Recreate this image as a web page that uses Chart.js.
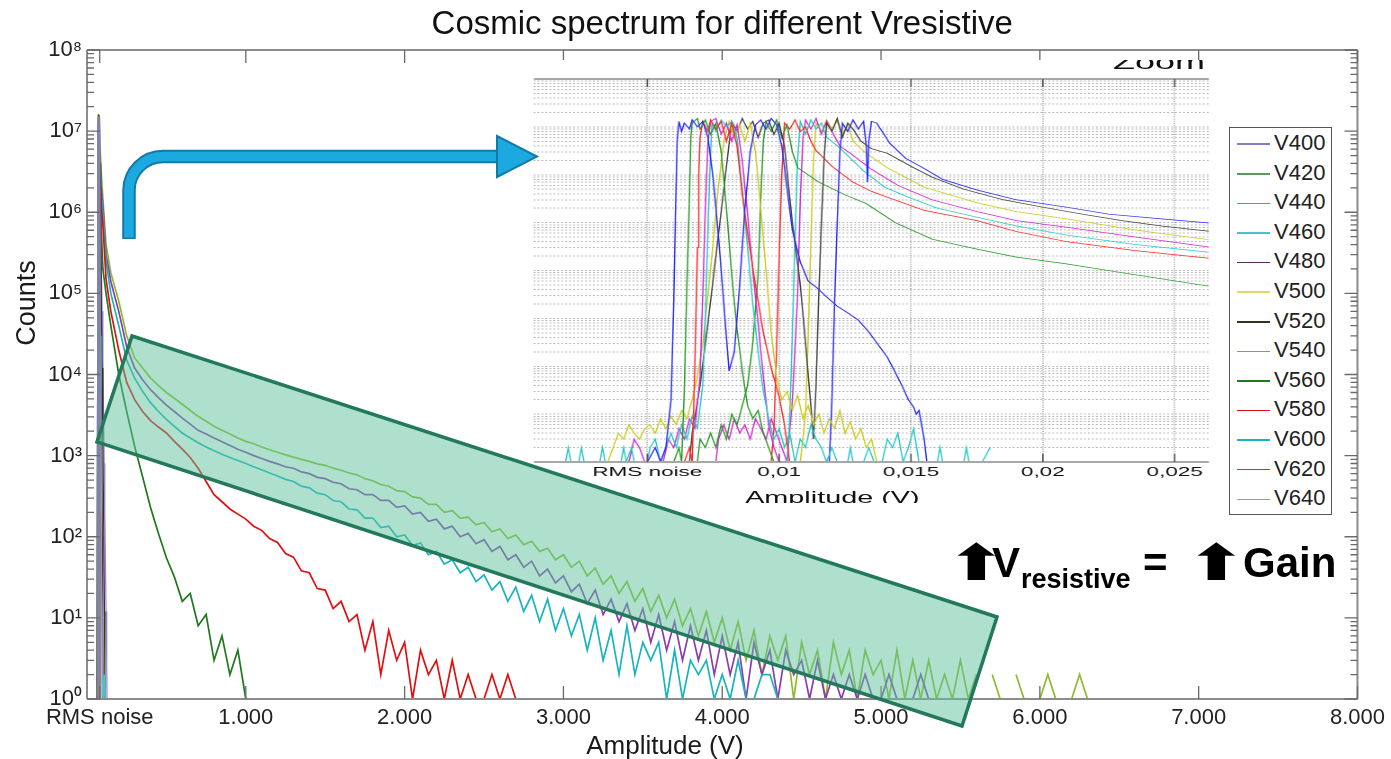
<!DOCTYPE html>
<html>
<head>
<meta charset="utf-8">
<script src="https://cdn.jsdelivr.net/npm/chart.js@4.4.1/dist/chart.umd.min.js"></script>
<style>
  html, body { margin: 0; padding: 0; background: #fff; }
  body { width: 1391px; height: 759px; position: relative; overflow: hidden; font-family: 'Liberation Sans', Arial, sans-serif; color: #1a1a1a; }
  #main { position: absolute; left: 0; top: 0; }
  #zoomBox { position: absolute; left: 530px; top: 60px; width: 685px; height: 443px; overflow: hidden; background: #fff; z-index: 1; }
  #zoomInner { position: absolute; left: 0; top: 0; width: 381px; height: 450px; transform: scaleX(1.8); transform-origin: 0 0; }
  #zoom { position: absolute; left: 0; top: 0; }
  .zoomTitle { position: absolute; right: 6px; top: -8px; font-size: 20px; line-height: 20px; color: #111; }
  .zoomXTitle { position: absolute; left: 108px; top: 428px; width: 120px; text-align: center; font-size: 16px; line-height: 20px; color: #111; }
  .xTitle { position: absolute; left: 565px; top: 731px; width: 200px; text-align: center; font-size: 26px; line-height: 28px; color: #1a1a1a; }
  .yTitle { position: absolute; left: -34px; top: 288px; width: 120px; text-align: center; font-size: 27px; line-height: 30px; transform: rotate(-90deg); color: #1a1a1a; }
  #legend { position: absolute; left: 1229px; top: 127px; width: 101px; height: 386px; border: 1.5px solid #555; background: #fff; z-index: 1; }
  #legend .row { height: 29.6px; line-height: 29.6px; font-size: 22px; color: #222; white-space: nowrap; }
  #legend .sw { display: inline-block; width: 33px; height: 1.5px; vertical-align: middle; margin: 0 4px 0 7px; }
  #notes { position: absolute; left: 0; top: 0; z-index: 2; pointer-events: none; }
  #gain { position: absolute; left: 0; top: 0; z-index: 3; color: #000; font-weight: bold; }
  #gain span { position: absolute; white-space: nowrap; font-size: 42px; line-height: 42px; top: 542px; }
  #gain span.sub { font-size: 27px; line-height: 27px; top: 566px; }
  #gain span.arw { font-family: 'DejaVu Sans', sans-serif; font-size: 50px; line-height: 50px; top: 538px; transform: scaleX(1.4); transform-origin: 0 0; }
</style>
</head>
<body>
<canvas id="main" width="1391" height="759"></canvas>
<div class="xTitle">Amplitude (V)</div>
<div class="yTitle">Counts</div>
<div id="zoomBox">
  <div id="zoomInner">
    <canvas id="zoom" width="381" height="450"></canvas>
    <div class="zoomTitle">Zoom</div>
    <div class="zoomXTitle">Amplitude (V)</div>
  </div>
</div>
<div id="legend"></div>
<svg id="notes" width="1391" height="759">
  <polygon points="132,336 997,617 962,726 97,442" fill="rgba(94,193,156,0.5)" stroke="#23795c" stroke-width="3.5"/>
  <path d="M129,239 V190 A34,34 0 0 1 163,156.5 H500" fill="none" stroke="#117aa8" stroke-width="13.5"/>
  <path d="M129,237.5 V190 A34,34 0 0 1 163,156.5 H501" fill="none" stroke="#1ca9df" stroke-width="9.5"/>
  <polygon points="497,136 537,156.5 497,177" fill="#1ca9df" stroke="#117aa8" stroke-width="2"/>
</svg>
<div id="gain">
  <span class="arw" style="left:947px">⬆</span>
  <span style="left:992px">V</span>
  <span class="sub" style="left:1021px">resistive</span>
  <span style="left:1143px">=</span>
  <span class="arw" style="left:1187px">⬆</span>
  <span style="left:1243px">Gain</span>
</div>

<script>
// ---------- shared ----------
const seriesNames = ['V400', 'V420', 'V440', 'V460', 'V480', 'V500', 'V520', 'V540', 'V560', 'V580', 'V600', 'V620', 'V640'];
const mainColors = ['#8080c0', '#5a9a5a', '#e06060', '#50c0c8', '#5a2a60', '#e0d860', '#333322', '#9080d8',
                    '#1f7a1f', '#e01010', '#18b4bc', '#8a3cb0', '#8cbc2c'];
const zoomColors = ['#2b2bff', '#2a9a2a', '#ff2b2b', '#2ac8c8', '#d42ad4', '#cccc20', '#444444',
                    '#2b2bff', '#2a9a2a', '#ff2b2b', '#2ac8c8', '#d42ad4', '#cccc20'];

const countRange = [1, 1e8];
const countDecades = [1, 10, 100, 1000, 1e4, 1e5, 1e6, 1e7, 1e8];
const decadeLabels = ['10⁰', '10¹', '10²', '10³', '10⁴', '10⁵', '10⁶', '10⁷', '10⁸'];
const minorSteps = [2, 3, 4, 5, 6, 7, 8, 9];

// ---------- main plot ----------
const ampRange = [0, 8];
const ampTicks = [0.08, 1, 2, 3, 4, 5, 6, 7, 8];
const ampLabels = ['RMS noise', '1.000', '2.000', '3.000', '4.000', '5.000', '6.000', '7.000', '8.000'];

// low voltages: only the narrow noise peak near zero [V, counts]
const mainV400 = [[0.064,1],[0.067,20000],[0.069,12000000],[0.072,15000000],[0.075,3000000],[0.077,20000],[0.079,20],[0.080,1]];
const mainV420 = [[0.065,1],[0.068,50000],[0.070,14000000],[0.073,10000000],[0.076,800000],[0.078,3000],[0.080,1]];
const mainV440 = [[0.066,1],[0.069,300000],[0.071,15000000],[0.074,13000000],[0.078,2000000],[0.081,40000],[0.083,200],[0.085,4],[0.086,1]];
const mainV460 = [[0.067,1],[0.070,400000],[0.072,13000000],[0.076,11000000],[0.080,1000000],[0.084,30000],[0.088,500],[0.092,20],[0.095,1],[0.100,2],[0.105,1],[0.110,2],[0.115,1]];
const mainV480 = [[0.068,1],[0.071,600000],[0.073,14000000],[0.077,12000000],[0.082,2000000],[0.087,60000],[0.092,2000],[0.097,100],[0.100,10],[0.102,1]];
const mainV500 = [[0.070,1],[0.073,800000],[0.075,15000000],[0.078,13000000],[0.080,3000000],[0.082,200000],[0.083,5000],[0.084,50],[0.085,1]];
const mainV520 = [[0.070,1],[0.072,1000000],[0.074,16000000],[0.078,14000000],[0.082,4000000],[0.086,600000],[0.090,90000],[0.095,12000],[0.100,1500],[0.105,150],[0.110,12],[0.113,1]];
const mainV540 = [[0.071,1],[0.074,2000000],[0.076,15000000],[0.080,13000000],[0.085,2000000],[0.090,300000],[0.095,60000],[0.100,15000],[0.105,3000],[0.108,800],[0.112,200],[0.116,50],[0.120,12],[0.124,3],[0.126,1]];

// high voltages: full cosmic spectrum, counts on a shared amplitude grid (V)
const ampGrid = [0.066, 0.07, 0.075, 0.08, 0.09, 0.1, 0.12, 0.15, 0.2, 0.25,
  0.30,0.35,0.40,0.45,0.50,0.55,0.60,0.65,0.70,0.75,
  0.80,0.85,0.90,0.95,1.00,1.05,1.10,1.15,1.20,1.25,
  1.30,1.35,1.40,1.45,1.50,1.55,1.60,1.65,1.70,1.75,
  1.80,1.85,1.90,1.95,2.00,2.05,2.10,2.15,2.20,2.25,
  2.30,2.35,2.40,2.45,2.50,2.55,2.60,2.65,2.70,2.75,
  2.80,2.85,2.90,2.95,3.00,3.05,3.10,3.15,3.20,3.25,
  3.30,3.35,3.40,3.45,3.50,3.55,3.60,3.65,3.70,3.75,
  3.80,3.85,3.90,3.95,4.00,4.05,4.10,4.15,4.20,4.25,
  4.30,4.35,4.40,4.45,4.50,4.55,4.60,4.65,4.70,4.75,
  4.80,4.85,4.90,4.95,5.00,5.05,5.10,5.15,5.20,5.25,
  5.30,5.35,5.40,5.45,5.50,5.55,5.60,5.65,5.70,5.75,
  5.80,5.85,5.90,5.95,6.00,6.05,6.10,6.15,6.20,6.25,
  6.30];

const mainV560 = [1, 8000000, 5000000, 2000000, 600000, 200000, 100000, 40000, 10000, 3500,
  1300,550,230,110,55,32,16,20,8,11,
  3,6,2,4,1];
const mainV580 = [1, 10000000, 7000000, 3000000, 1200000, 700000, 150000, 60000, 20000, 8000,
  4900,3500,2700,2250,1900,1500,1200,950,700,480,
  330,270,220,190,165,135,120,95,85,62,
  56,38,36,23,22,13,16,9,11,4,
  9,2,7,3,5,1,4,2,3,1,
  3,1,2,1,1,2,1,2,1];
const mainV600 = [1, 10000000, 8000000, 5000000, 1600000, 1000000, 250000, 100000, 40000, 15000,
  9000,6200,4500,3500,2800,2300,1900,1650,1440,1280,
  1150,1040,950,870,800,730,670,610,560,510,
  480,420,400,345,330,280,270,220,215,170,
  170,130,135,100,105,78,84,60,66,46,
  52,36,42,28,34,22,28,16,24,12,
  19,9,17,7,13,6,11,4,10,3,
  7,2,8,2,5,3,5,1,4,1,
  3,2,3,1,2,1,3,1,1,2,
  2,1];
const mainV620 = [1, 12000000, 10000000, 6000000, 2000000, 1200000, 300000, 140000, 60000, 22000,
  12000,8600,6500,5200,4200,3500,2900,2450,2050,1850,
  1650,1480,1330,1200,1100,1000,920,850,790,730,
  700,630,600,540,520,470,450,390,380,330,
  330,280,280,230,240,190,200,155,165,125,
  135,100,110,82,92,66,76,52,60,42,
  50,33,40,27,33,21,26,15,22,11,
  17,9,15,7,13,5,11,4,9,3,
  8,3,7,2,6,2,5,1,5,2,
  4,1,4,2,3,1,3,1,2,1,
  2,1,2,1,1,2,1,null,1,2,
  1];
const mainV640 = [1, 16000000, 14000000, 8000000, 3000000, 1500000, 400000, 180000, 80000, 30000,
  16000,12000,9100,7300,6000,5100,4300,3600,3050,2650,
  2300,2050,1850,1650,1500,1400,1280,1180,1100,1020,
  960,900,850,790,760,700,660,610,580,520,
  490,440,420,370,360,310,300,250,250,200,
  210,170,175,140,150,115,125,95,105,80,
  88,66,72,52,60,42,50,33,41,26,
  33,20,28,16,23,12,19,10,17,8,
  13,6,12,5,10,4,9,3,7,2,
  6,3,6,1,5,2,4,1,5,2,
  4,1,4,2,3,1,4,1,3,1,
  3,1,2,1,3,1,2,null,2,1,
  null,2,1,null,1,2,1,null,1,2,
  1];

// ---------- zoom inset ----------
const zoomRange = [0.0007, 0.0263];
const zoomTicks = [0.005, 0.01, 0.015, 0.02, 0.025];
const zoomLabels = ['RMS noise', '0,01', '0,015', '0,02', '0,025'];

const zoomV400 = [[0.0050,1],[0.0053,2],[0.0055,1],[0.0057,2],[0.0059,20],[0.0060,2000],[0.00607,200000],[0.00613,5000000],[0.0062,13000000],[0.0063,8000000],[0.0064,12000000],[0.0066,9000000],[0.0067,14000000],[0.0069,10000000],[0.0071,13000000],[0.0073,6000000],[0.0075,800000],[0.0077,50000],[0.0079,2000],[0.0081,80],[0.0083,200],[0.0085,5000],[0.0087,200000],[0.0089,3000000],[0.0091,11000000],[0.0093,14000000],[0.0095,9000000],[0.0097,15000000],[0.0099,11000000],[0.0101,4000000],[0.0103,500000],[0.0105,70000],[0.0108,15000],[0.0111,6000],[0.0114,4500],[0.0118,2800],[0.0122,1800],[0.0126,1300],[0.0130,920],[0.0134,520],[0.0138,260],[0.0141,155],[0.0144,75],[0.0147,35],[0.0149,20],[0.0151,14],[0.0152,10],[0.0153,12],[0.0155,3],[0.0156,1]];
const zoomV420 = [[0.0060,1],[0.0062,2],[0.0063,1],[0.0064,30],[0.0065,5000],[0.0066,400000],[0.00665,6000000],[0.0067,12000000],[0.0069,15000000],[0.0070,9000000],[0.0072,14000000],[0.0074,7000000],[0.0076,12000000],[0.0078,3000000],[0.0080,200000],[0.0082,8000],[0.0084,600],[0.0086,80],[0.0088,15],[0.0090,8],[0.0092,12],[0.0094,4],[0.0096,2],[0.0098,1]];
const zoomV440 = [[0.0064,1],[0.0066,2],[0.0067,1],[0.0068,100],[0.0069,30000],[0.00695,1000000],[0.0070,6000000],[0.0071,13000000],[0.0073,8000000],[0.0074,14000000],[0.0076,9000000],[0.0078,13000000],[0.0080,5000000],[0.0082,12000000],[0.0084,4000000],[0.0086,400000],[0.0088,60000],[0.0091,5000],[0.0094,500],[0.0097,90],[0.0100,23],[0.0102,6],[0.0104,1]];
const zoomV460 = [[0.0019,1],[0.0020,2],[0.0021,1],[0.0023,null],[0.0024,1],[0.0025,2],[0.0026,1],[0.0028,null],[0.0032,1],[0.0033,2],[0.0034,1],[0.0036,null],[0.0040,1],[0.0041,2],[0.0042,1],[0.0044,2],[0.0045,1],[0.0048,null],[0.0050,1],[0.0051,2],[0.0053,3],[0.0055,1],[0.0057,2],[0.0059,4],[0.0061,2],[0.0063,6],[0.0065,3],[0.0067,9],[0.0069,5],[0.0071,40],[0.0072,1000],[0.0073,80000],[0.0074,3000000],[0.00745,12000000],[0.0076,8000000],[0.0078,14000000],[0.0080,10000000],[0.0082,13000000],[0.0084,6000000],[0.0086,500000],[0.0088,30000],[0.0090,2000],[0.0092,200],[0.0094,30],[0.0096,8],[0.0098,3],[0.0100,5],[0.0102,2],[0.0104,4],[0.0106,1],[0.0108,3],[0.0110,2],[0.0112,6],[0.0114,3],[0.0116,2],[0.0118,1],[0.0120,2],[0.0122,1],[0.0124,null],[0.0126,1],[0.0127,2],[0.0128,1],[0.0130,null],[0.0132,1],[0.0134,2],[0.0136,1],[0.0139,1],[0.0141,3],[0.0143,2],[0.0145,4],[0.0147,1],[0.0149,2],[0.0151,5],[0.0153,1],[0.0155,null],[0.0160,1],[0.0161,2],[0.0162,1],[0.0165,null],[0.0170,1],[0.0171,2],[0.0172,1],[0.0174,null],[0.0177,1],[0.0180,2]];
const zoomV480 = [[0.0043,1],[0.0045,3],[0.0047,2],[0.0049,1],[0.0051,null],[0.0056,1],[0.0058,3],[0.0060,2],[0.0062,5],[0.0064,3],[0.0066,8],[0.0068,5],[0.0070,60],[0.0071,3000],[0.0072,200000],[0.0073,5000000],[0.0074,13000000],[0.0076,15000000],[0.0078,7000000],[0.0080,12000000],[0.0082,5000000],[0.0084,11000000],[0.0086,2000000],[0.0088,150000],[0.0090,10000],[0.0092,800],[0.0094,60],[0.0096,6],[0.0098,2],[0.0100,1]];
const zoomV500 = [[0.0035,1],[0.0037,2],[0.0039,4],[0.0041,3],[0.0043,6],[0.0045,4],[0.0047,3],[0.0049,5],[0.0051,6],[0.0053,4],[0.0055,8],[0.0057,5],[0.0059,9],[0.0061,6],[0.0063,12],[0.0065,8],[0.0067,20],[0.0069,60],[0.0071,300],[0.0073,3000],[0.0075,40000],[0.0077,600000],[0.0079,5000000],[0.0081,13000000],[0.0083,6000000],[0.0085,11000000],[0.0087,5000000],[0.0089,12000000],[0.0091,3000000],[0.0093,200000],[0.0095,10000],[0.0097,500],[0.0099,60],[0.0101,20],[0.0103,30],[0.0105,12],[0.0107,25],[0.0109,8],[0.0111,15],[0.0113,6],[0.0115,10],[0.0117,4],[0.0119,8],[0.0121,5],[0.0123,12],[0.0125,4],[0.0127,7],[0.0129,3],[0.0131,5],[0.0133,2],[0.0135,3],[0.0137,1]];
const zoomV520 = [[0.0066,1],[0.0067,4],[0.0070,40],[0.0073,800],[0.0076,20000],[0.0079,500000],[0.0082,13000000],[0.0084,8000000],[0.0086,15000000],[0.0088,9000000],[0.0090,13000000],[0.0092,6000000],[0.0094,12000000],[0.0096,14000000],[0.0098,7000000],[0.0100,12000000],[0.0102,4000000],[0.0105,100000],[0.0108,5000],[0.0110,300],[0.0112,15],[0.0113,3],[0.0114,40],[0.0115,3000],[0.0116,100000],[0.0117,2000000],[0.0118,12000000],[0.0120,8000000],[0.0122,15000000],[0.0124,6000000],[0.0126,12000000],[0.0128,9000000],[0.0131,5000000],[0.0135,3500000],[0.0141,2800000],[0.0150,1500000],[0.0158,890000],[0.0170,500000],[0.0185,300000],[0.0200,210000],[0.0215,150000],[0.0230,110000],[0.0245,85000],[0.0263,66000]];
const zoomV540 = [[0.0119,1],[0.0120,20],[0.0121,2000],[0.0122,100000],[0.0123,3000000],[0.0124,12000000],[0.0126,8000000],[0.0128,14000000],[0.0130,9000000],[0.0132,13000000],[0.0133,4000000],[0.01335,700000],[0.0134,5000000],[0.0135,13000000],[0.0137,12000000],[0.0142,4500000],[0.0148,2200000],[0.01545,1400000],[0.0162,800000],[0.0175,480000],[0.0190,300000],[0.0209,210000],[0.0225,150000],[0.0245,120000],[0.0263,98000]];
const zoomV560 = [[0.0069,1],[0.0070,3],[0.0072,2],[0.0074,4],[0.0076,2],[0.0078,6],[0.0080,3],[0.0082,10],[0.0084,6],[0.0086,15],[0.0088,40],[0.0090,300],[0.0092,8000],[0.0093,300000],[0.0094,5000000],[0.0095,13000000],[0.0097,8000000],[0.0099,14000000],[0.0101,6000000],[0.0103,11000000],[0.0105,3000000],[0.0107,1400000],[0.0115,700000],[0.0125,380000],[0.0133,250000],[0.0144,100000],[0.0158,45000],[0.0175,28000],[0.0190,19000],[0.0208,14000],[0.0230,9000],[0.0263,4700]];
const zoomV580 = [[0.0097,1],[0.0098,5],[0.0099,200],[0.0100,20000],[0.0101,1000000],[0.0102,12000000],[0.0104,9000000],[0.0106,14000000],[0.0108,8000000],[0.0110,10000000],[0.0112,5000000],[0.0114,3200000],[0.0120,1500000],[0.0128,700000],[0.0135,450000],[0.0141,340000],[0.0155,180000],[0.0175,110000],[0.0190,65000],[0.0209,40000],[0.0235,26000],[0.0263,18000]];
const zoomV600 = [[0.0103,1],[0.0104,8],[0.0105,500],[0.0106,50000],[0.0107,2000000],[0.0108,13000000],[0.0110,7000000],[0.0112,14000000],[0.0114,9000000],[0.0116,12000000],[0.0118,6000000],[0.0121,4500000],[0.0124,3200000],[0.0132,1200000],[0.0140,550000],[0.0149,340000],[0.0160,200000],[0.0175,130000],[0.0190,85000],[0.0209,55000],[0.0235,35000],[0.0263,24000]];
const zoomV620 = [[0.0076,1],[0.0077,3],[0.0079,6],[0.0081,3],[0.0083,8],[0.0085,4],[0.0087,6],[0.0089,3],[0.0091,8],[0.0093,5],[0.0095,3],[0.0097,8],[0.0099,4],[0.0101,2],[0.0103,1],[0.0105,20],[0.0107,3000],[0.0108,300000],[0.0109,6000000],[0.0110,14000000],[0.0112,9000000],[0.0114,15000000],[0.0116,7000000],[0.0118,13000000],[0.0120,8000000],[0.0123,4000000],[0.0127,2800000],[0.0135,1300000],[0.0145,600000],[0.0158,300000],[0.0175,170000],[0.0190,110000],[0.0209,80000],[0.0235,50000],[0.0263,31000]];
const zoomV640 = [[0.0108,1],[0.0110,10],[0.0111,400],[0.0112,40000],[0.0113,2000000],[0.0114,12000000],[0.0116,8000000],[0.0118,14000000],[0.0120,9000000],[0.0122,13000000],[0.0124,7000000],[0.0126,11000000],[0.0128,5000000],[0.0133,2800000],[0.0141,1400000],[0.0155,550000],[0.0175,260000],[0.0190,170000],[0.0209,120000],[0.0235,70000],[0.0263,44000]];

// ---------- helpers ----------
const countTicks = [];
countDecades.forEach((d, i) => {
    countTicks.push(d);
    if (i < countDecades.length - 1) minorSteps.forEach(m => countTicks.push(m * d));
});
const decadeLabel = v => {
    const k = countDecades.indexOf(v);
    return k >= 0 ? decadeLabels[k] : '';
};

// MATLAB-like box with inward ticks
const axisFrame = {
    id: 'axisFrame',
    afterDatasetsDraw(chart, args, o) {
        const {ctx, chartArea: a, scales: {x, y}} = chart;
        ctx.save();
        ctx.strokeStyle = o.frameColor;
        ctx.lineWidth = o.frameWidth;
        ctx.beginPath();
        ctx.moveTo(a.left, a.top); ctx.lineTo(a.right, a.top);
        ctx.moveTo(a.left, a.bottom); ctx.lineTo(a.right, a.bottom);
        if (o.sides) {
            ctx.moveTo(a.left, a.top); ctx.lineTo(a.left, a.bottom);
            ctx.moveTo(a.right, a.top); ctx.lineTo(a.right, a.bottom);
        }
        ctx.stroke();
        ctx.strokeStyle = o.tickColor;
        ctx.lineWidth = o.tickWidth;
        ctx.beginPath();
        x.ticks.forEach(t => {
            const px = x.getPixelForValue(t.value);
            ctx.moveTo(px, a.bottom); ctx.lineTo(px, a.bottom - o.majorLen);
            ctx.moveTo(px, a.top); ctx.lineTo(px, a.top + o.majorLen);
        });
        if (o.sides) {
            y.ticks.forEach(t => {
                const py = y.getPixelForValue(t.value);
                const len = countDecades.includes(t.value) ? o.majorLen : o.minorLen;
                ctx.moveTo(a.left, py); ctx.lineTo(a.left + len, py);
                ctx.moveTo(a.right, py); ctx.lineTo(a.right - len, py);
            });
        }
        ctx.stroke();
        ctx.restore();
    }
};

Chart.defaults.font.family = "'Liberation Sans', Arial, sans-serif";
Chart.defaults.color = '#222';

// ---------- main chart ----------
const spikeSeries = [mainV400, mainV420, mainV440, mainV460, mainV480, mainV500, mainV520, mainV540];
const decaySeries = [mainV560, mainV580, mainV600, mainV620, mainV640];

const mainDatasets = seriesNames.map((name, i) => ({
    label: name,
    data: i < 8 ? spikeSeries[i] : ampGrid.map((x, k) => [x, decaySeries[i - 8][k] ?? null]),
    borderColor: mainColors[i],
    borderWidth: i < 8 ? 1.2 : 1.7,
    pointRadius: 0,
    fill: false,
    tension: 0,
}));

const mainChart = new Chart(document.getElementById('main'), {
    type: 'line',
    data: {datasets: mainDatasets},
    options: {
        responsive: false,
        animation: false,
        devicePixelRatio: 1,
        events: [],
        layout: {padding: {left: 0, right: 31, top: 0, bottom: 0}},
        plugins: {
            legend: {display: false},
            tooltip: {enabled: false},
            title: {
                display: true,
                text: 'Cosmic spectrum for different Vresistive',
                fullSize: false,
                color: '#111',
                font: {size: 33, weight: 'normal'},
                padding: {top: 5, bottom: 5.4},
            },
            axisFrame: {frameColor: '#8c8c8c', frameWidth: 2, tickColor: '#6a6a6a', tickWidth: 1.3, majorLen: 13, minorLen: 7, sides: true},
        },
        scales: {
            x: {
                type: 'linear',
                min: ampRange[0],
                max: ampRange[1],
                grid: {display: false, drawTicks: false},
                border: {display: false},
                afterBuildTicks: s => { s.ticks = ampTicks.map(v => ({value: v})); },
                afterFit: s => { s.height = 60; },
                ticks: {autoSkip: false, maxRotation: 0, padding: 6, font: {size: 22}, color: '#222',
                        callback: (v, i) => ampLabels[i]},
            },
            y: {
                type: 'logarithmic',
                min: countRange[0],
                max: countRange[1],
                grid: {display: false, drawTicks: false},
                border: {display: false},
                afterBuildTicks: s => { s.ticks = countTicks.map(v => ({value: v})); },
                afterFit: s => { s.width = 87; },
                ticks: {autoSkip: false, padding: 5, font: {size: 22}, color: '#222', callback: decadeLabel},
            },
        },
    },
    plugins: [axisFrame],
});

// legend built from the datasets
const legendBox = document.getElementById('legend');
mainChart.data.datasets.forEach(ds => {
    const row = document.createElement('div');
    row.className = 'row';
    row.innerHTML = `<span class="sw" style="background:${ds.borderColor}"></span>${ds.label}`;
    legendBox.appendChild(row);
});

// ---------- zoom inset ----------
const zoomSeries = [zoomV400, zoomV420, zoomV440, zoomV460, zoomV480, zoomV500, zoomV520,
                    zoomV540, zoomV560, zoomV580, zoomV600, zoomV620, zoomV640];

new Chart(document.getElementById('zoom'), {
    type: 'line',
    data: {
        datasets: seriesNames.map((name, i) => ({
            label: name,
            data: zoomSeries[i],
            borderColor: zoomColors[i],
            borderWidth: 0.75,
            pointRadius: 0,
            fill: false,
            tension: 0,
        })),
    },
    options: {
        responsive: false,
        animation: false,
        devicePixelRatio: 2,
        events: [],
        layout: {padding: {left: 0, right: 3.8, top: 19, bottom: 0}},
        plugins: {
            legend: {display: false},
            tooltip: {enabled: false},
            axisFrame: {frameColor: '#a8a8a8', frameWidth: 2, tickColor: '#555', tickWidth: 0.8, majorLen: 8, minorLen: 4, sides: false},
        },
        scales: {
            x: {
                type: 'linear',
                min: zoomRange[0],
                max: zoomRange[1],
                grid: {display: true, drawTicks: false, color: '#8a8a8a', lineWidth: 0.6},
                border: {display: false, dash: [1, 1.2]},
                afterBuildTicks: s => { s.ticks = zoomTicks.map(v => ({value: v})); },
                afterFit: s => { s.height = 48; },
                ticks: {autoSkip: false, maxRotation: 0, padding: 3, font: {size: 12.5}, color: '#111',
                        callback: (v, i) => zoomLabels[i]},
            },
            y: {
                type: 'logarithmic',
                min: countRange[0],
                max: countRange[1],
                grid: {display: true, drawTicks: false, color: '#b4b4b4', lineWidth: 1},
                border: {display: false, dash: [1, 1.2]},
                afterBuildTicks: s => { s.ticks = countTicks.map(v => ({value: v})); },
                afterFit: s => { s.width = 2.2; },
                ticks: {display: false},
            },
        },
    },
    plugins: [axisFrame],
});
</script>
</body>
</html>
